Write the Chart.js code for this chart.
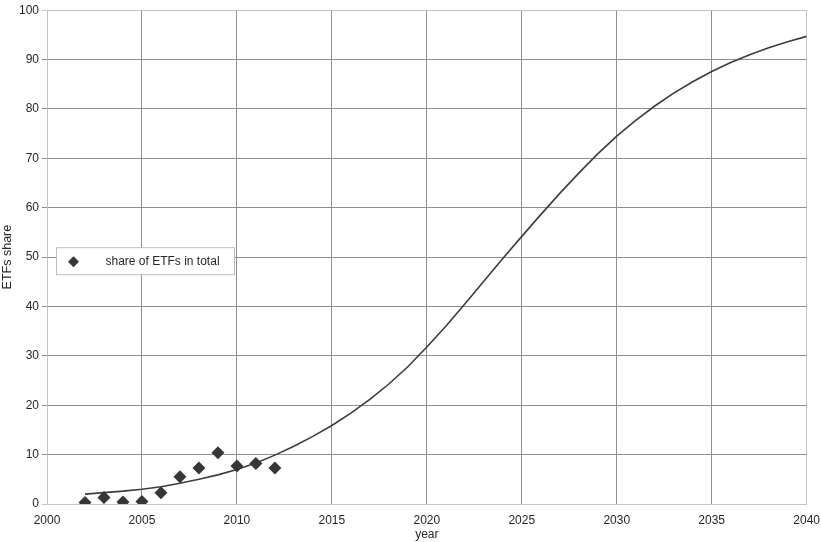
<!DOCTYPE html>
<html>
<head>
<meta charset="utf-8">
<title>ETFs share</title>
<script src="https://cdn.jsdelivr.net/npm/chart.js@4/dist/chart.umd.min.js"></script>
<style>
  html, body { margin: 0; padding: 0; background: #ffffff; }
  #wrap { position: relative; width: 821px; height: 542px; }
</style>
</head>
<body>
<div id="wrap"><canvas id="chart" width="821" height="542"></canvas></div>
<script>
// Observed share of ETFs in total, by year
const obsYears  = [2002, 2003, 2004, 2005, 2006, 2007, 2008, 2009, 2010, 2011, 2012];
const obsShare  = [0.3, 1.3, 0.4, 0.5, 2.3, 5.5, 7.3, 10.4, 7.7, 8.2, 7.3];

// Fitted growth curve, by year
const fitYears  = [2002, 2003, 2004, 2005, 2006, 2007, 2008, 2009, 2010, 2011,
                   2012, 2013, 2014, 2015, 2016, 2017, 2018, 2019, 2020, 2021,
                   2022, 2023, 2024, 2025, 2026, 2027, 2028, 2029, 2030, 2031,
                   2032, 2033, 2034, 2035, 2036, 2037, 2038, 2039, 2040];
const fitShare  = [2.0, 2.3, 2.6, 3.0, 3.5, 4.2, 5.0, 5.9, 7.0, 8.3,
                   9.9, 11.7, 13.7, 15.9, 18.4, 21.2, 24.3, 27.8, 31.8, 36.0,
                   40.5, 45.1, 49.7, 54.2, 58.6, 62.9, 67.0, 70.9, 74.5, 77.7,
                   80.6, 83.2, 85.5, 87.6, 89.4, 91.0, 92.4, 93.6, 94.7];

// Axis ranges and labels
const xRange = [2000, 2040];
const yRange = [0, 100];
const xStep = 5;
const yStep = 10;
const xTitle = 'year';
const yTitle = 'ETFs share';
const seriesLabel = 'share of ETFs in total';

const FONT = '"Liberation Sans", Arial, sans-serif';
const edgeGrey = '#c4c4c4';
const gridGrey = '#8e8e8e';
const markColor = '#363636';

// Boxed legend sitting inside the plot, left of centre
const boxLegend = {
  id: 'boxLegend',
  afterDraw(chart) {
    const ctx = chart.ctx;
    const area = chart.chartArea;
    const ds = chart.data.datasets[1];
    const x = area.left + 9.5, y = area.top + 237.5, w = 178, h = 27;
    ctx.save();
    ctx.fillStyle = '#ffffff';
    ctx.strokeStyle = '#bdbdbd';
    ctx.lineWidth = 1;
    ctx.fillRect(x, y, w, h);
    ctx.strokeRect(x, y, w, h);
    // marker
    const cx = x + 17, cy = y + h / 2 + 0.5, r = 5.5;
    ctx.fillStyle = ds.pointBackgroundColor;
    ctx.beginPath();
    ctx.moveTo(cx - r, cy); ctx.lineTo(cx, cy - r);
    ctx.lineTo(cx + r, cy); ctx.lineTo(cx, cy + r);
    ctx.closePath(); ctx.fill();
    // label
    ctx.fillStyle = '#262626';
    ctx.font = '12px ' + FONT;
    ctx.textBaseline = 'middle';
    ctx.textAlign = 'left';
    ctx.fillText(ds.label, x + 49, cy);
    ctx.restore();
  }
};

const fitPoints = fitYears.map((yr, i) => ({ x: yr, y: fitShare[i] }));
const obsPoints = obsYears.map((yr, i) => ({ x: yr, y: obsShare[i] }));

new Chart(document.getElementById('chart'), {
  type: 'scatter',
  data: {
    datasets: [
      {
        type: 'line',
        label: 'trend',
        data: fitPoints,
        borderColor: '#3c3c3c',
        borderWidth: 1.6,
        pointRadius: 0,
        tension: 0,
        fill: false,
        clip: 0,
        order: 2
      },
      {
        label: seriesLabel,
        data: obsPoints,
        showLine: false,
        pointStyle: 'rectRot',
        pointRadius: 6.5,
        pointHoverRadius: 6.5,
        pointBackgroundColor: markColor,
        pointBorderColor: markColor,
        pointBorderWidth: 0,
        clip: 0,
        order: 1
      }
    ]
  },
  options: {
    responsive: false,
    animation: false,
    events: [],
    layout: { padding: { top: 9, right: 14, left: 0, bottom: 0 } },
    plugins: {
      legend: { display: false },
      tooltip: { enabled: false }
    },
    scales: {
      x: {
        type: 'linear',
        min: xRange[0],
        max: xRange[1],
        afterFit(scale) { scale.height = 38; },
        ticks: {
          stepSize: xStep,
          color: '#262626',
          font: { family: FONT, size: 12 },
          padding: 1,
          maxRotation: 0,
          callback: v => String(v)
        },
        grid: {
          color: c => (c.tick && (c.tick.value === xRange[0] || c.tick.value === xRange[1])) ? edgeGrey : gridGrey,
          tickColor: 'rgba(0,0,0,0)',
          tickLength: 8,
          lineWidth: 1
        },
        border: { display: true, color: edgeGrey, width: 1 },
        title: {
          display: true,
          text: xTitle,
          color: '#262626',
          font: { family: FONT, size: 12 },
          padding: { top: 0, bottom: 0 }
        }
      },
      y: {
        min: yRange[0],
        max: yRange[1],
        afterFit(scale) { scale.width = 47; },
        ticks: {
          stepSize: yStep,
          color: '#262626',
          font: { family: FONT, size: 12 },
          padding: 3
        },
        grid: {
          color: c => (c.tick && (c.tick.value === yRange[0] || c.tick.value === yRange[1])) ? edgeGrey : gridGrey,
          tickLength: 5,
          lineWidth: 1
        },
        border: { display: true, color: edgeGrey, width: 1 },
        title: {
          display: true,
          text: yTitle,
          color: '#262626',
          font: { family: FONT, size: 12.5 },
          padding: { top: 0, bottom: 0 }
        }
      }
    }
  },
  plugins: [boxLegend]
});
</script>
</body>
</html>
